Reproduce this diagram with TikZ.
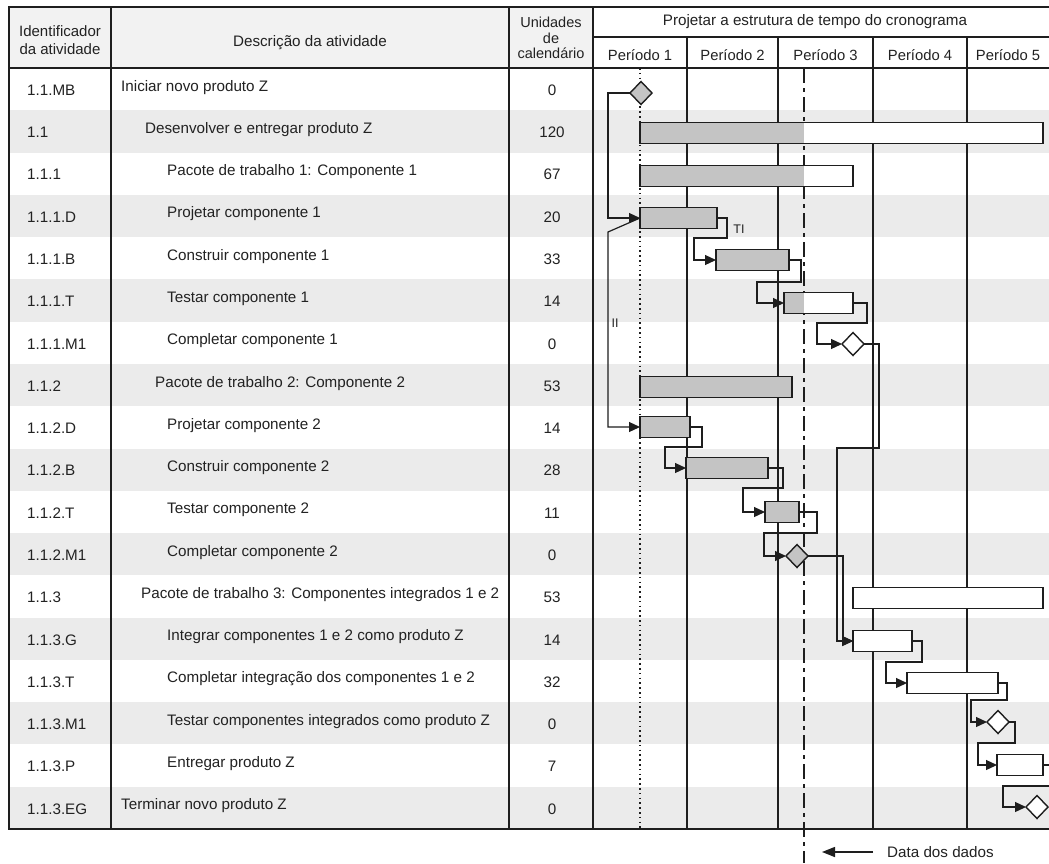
\documentclass[tikz,border=0pt]{standalone}
\usepackage{fontspec}
\setmainfont{Liberation Sans}
\usetikzlibrary{shapes.geometric,arrows.meta}
\definecolor{rowg}{HTML}{EBEBEB}
\definecolor{barg}{HTML}{C4C4C4}
\definecolor{hdrg}{HTML}{F2F2F2}
\definecolor{ink}{HTML}{1E1E1E}
\definecolor{txt}{HTML}{222222}
\newcommand\gbar[5]{\node[gb,#5,minimum width={#3-#2}] (#1) at ({(#2+#3)/2},#4) {};}
\begin{document}
\begin{tikzpicture}[x=1pt,y=-1pt,
  every node/.style={font=\fontsize{15.2}{18}\selectfont, text=txt, inner sep=0pt},
  grid/.style={draw=ink, line width=1.4pt},
  gb/.style={draw=ink, line width=1.4pt, fill=white, minimum height=21pt, inner sep=0pt, outer sep=0pt},
  gfull/.style={fill=barg},
  gpart/.style={path picture={\fill[barg] (path picture bounding box.south west) rectangle (path picture bounding box.north -| dd);}},
  ms/.style={diamond, draw=ink, line width=1.4pt, fill=white, minimum width=22pt, minimum height=23pt, inner sep=0pt, outer sep=0pt},
  lnk/.style={draw=ink, line width=1.2pt, -{Triangle[length=11pt,width=10pt]}},
  hdr/.style={align=center}
]
\useasboundingbox (0,0) rectangle (1049,863);
\clip (0,0) rectangle (1049,863);
\fill[white] (0,0) rectangle (1049,863);
% header background and row bands
\fill[hdrg] (9,7) rectangle (593,68);
\foreach \i in {2,4,...,18}{
  \fill[rowg] (9,{68+42.28*(\i-1)}) rectangle (1049,{68+42.28*\i});
}
% table grid
\draw[grid] (111,7) -- (111,829);
\draw[grid] (509,7) -- (509,829);
\draw[grid] (9,68) -- (1049,68);
\draw[grid] (593,7) -- (1049,7);
\draw[grid] (593,37) -- (1049,37);
\draw[grid] (593,829) -- (1049,829);
\foreach \x in {687,778,873,967}{\draw[grid] (\x,37) -- (\x,829);}
\draw[draw=ink, line width=1.9pt] (9,7) rectangle (593,829);
% header texts
\node[hdr, font=\fontsize{15}{17.5}\selectfont] (hid) at (60,40) {Identificador\\da atividade};
\node[hdr] (hds) at (310,43) {Descrição da atividade};
\node[hdr, font=\fontsize{14.5}{15.5}\selectfont] (hun) at (551,38) {Unidades\\de\\calendário};
\node[hdr] (hpj) at (815,22) {Projetar a estrutura de tempo do cronograma};
\foreach \k/\cx in {1/640,2/732.5,3/825.5,4/920,5/1008}{
  \node[font=\fontsize{14.8}{17}\selectfont] (per\k) at (\cx,55) {Período \k};
}
% rows
\foreach \i/\id/\dx/\desc/\un in {
 1/1.1.MB/121/{Iniciar novo produto Z}/0,
 2/1.1/145/{Desenvolver e entregar produto Z}/120,
 3/1.1.1/167/{Pacote de trabalho 1: Componente 1}/67,
 4/1.1.1.D/167/{Projetar componente 1}/20,
 5/1.1.1.B/167/{Construir componente 1}/33,
 6/1.1.1.T/167/{Testar componente 1}/14,
 7/1.1.1.M1/167/{Completar componente 1}/0,
 8/1.1.2/155/{Pacote de trabalho 2: Componente 2}/53,
 9/1.1.2.D/167/{Projetar componente 2}/14,
 10/1.1.2.B/167/{Construir componente 2}/28,
 11/1.1.2.T/167/{Testar componente 2}/11,
 12/1.1.2.M1/167/{Completar componente 2}/0,
 13/1.1.3/141/{Pacote de trabalho 3: Componentes integrados 1 e 2}/53,
 14/1.1.3.G/167/{Integrar componentes 1 e 2 como produto Z}/14,
 15/1.1.3.T/167/{Completar integração dos componentes 1 e 2}/32,
 16/1.1.3.M1/167/{Testar componentes integrados como produto Z}/0,
 17/1.1.3.P/167/{Entregar produto Z}/7,
 18/1.1.3.EG/121/{Terminar novo produto Z}/0}{
  \pgfmathsetmacro\yc{68+42.28*(\i-0.5)}
  \node[anchor=west] (id\i) at (27,\yc+1) {\id};
  \node[anchor=west] (ds\i) at (\dx,\yc-2) {\desc};
  \node (un\i) at (552,\yc+1) {\un};
}
% reference lines
\coordinate (dd) at (804,68);
\coordinate (ddend) at (804,863);
\coordinate (st) at (640,68);
\coordinate (stend) at (640,829);
\draw[draw=ink, line width=1.4pt, dash pattern=on 1.6pt off 3.2pt] (st) -- (stend);
\draw[draw=ink, line width=1.6pt, dash pattern=on 15pt off 5pt on 4pt off 5pt] (dd) -- (ddend);
% bars
\gbar{b11}{640}{1043}{133}{gpart}
\gbar{b111}{640}{853}{176}{gpart}
\gbar{b111D}{640}{717}{218}{gfull}
\gbar{b111B}{716}{789}{260}{gfull}
\gbar{b111T}{784}{853}{303}{gpart}
\gbar{b112}{640}{792}{387}{gfull}
\gbar{b112D}{640}{690}{427}{gfull}
\gbar{b112B}{686}{768}{468}{gfull}
\gbar{b112T}{765}{799}{512}{gfull}
\gbar{b113}{853}{1043}{598}{}
\gbar{b113G}{853}{912}{641}{}
\gbar{b113T}{907}{998}{683}{}
\gbar{b113P}{997}{1043}{765}{}
% milestones
\node[ms, fill=barg] (mMB) at (641,93) {};
\node[ms] (m111) at (853,344) {};
\node[ms, fill=barg] (m112) at (797,556) {};
\node[ms] (m113) at (998,722) {};
\node[ms] (mEG) at (1037,807) {};
% links
\draw[lnk] (mMB.west) -- ++(-22,0) |- (b111D.west);
\draw[lnk] (b111D.west) -- ++(-32,14) |- (b112D.west);
\draw[lnk] (b111D.east) -- ++(10,0) -- ++(0,20) -- ++(-33,0) |- (b111B.west);
\draw[lnk] (b111B.east) -- ++(12,0) -- ++(0,22) -- ++(-44,0) |- (b111T.west);
\draw[lnk] (b111T.east) -- ++(14,0) -- ++(0,20) -- ++(-50,0) |- (m111.west);
\draw[lnk] (m111.east) -- ++(15,0) -- ++(0,104) -- ++(-42,0) |- (b113G.west);
\draw[lnk] (b112D.east) -- ++(12,0) -- ++(0,20) -- ++(-37,0) |- (b112B.west);
\draw[lnk] (b112B.east) -- ++(15,0) -- ++(0,20) -- ++(-40,0) |- (b112T.west);
\draw[lnk] (b112T.east) -- ++(18,0) -- ++(0,21) -- ++(-53,0) |- (m112.west);
\draw[lnk] (m112.east) -- ++(35,0) |- (b113G.west);
\draw[lnk] (b113G.east) -- ++(10,0) -- ++(0,21) -- ++(-36,0) |- (b113T.west);
\draw[lnk] (b113T.east) -- ++(9,0) -- ++(0,17) -- ++(-36,0) |- (m113.west);
\draw[lnk] (m113.east) -- ++(6,0) -- ++(0,21) -- ++(-37,0) |- (b113P.west);
\draw[lnk] (b113P.east) -- ++(17,0) -- ++(0,21) -- ++(-57,0) |- (mEG.west);
% labels
\node[font=\fontsize{12.5}{14}\selectfont] (lTI) at (739,229) {TI};
\node[font=\fontsize{12.5}{14}\selectfont] (lII) at (615,323) {II};
% data date legend
\node[anchor=west] (ddl) at (887,852) {Data dos dados};
\coordinate (ddtip) at (822,852);
\draw[draw=ink, line width=1.4pt, -{Triangle[length=13pt,width=10pt]}] ([xshift=-14pt]ddl.west) -- (ddtip);
\end{tikzpicture}
\end{document}
